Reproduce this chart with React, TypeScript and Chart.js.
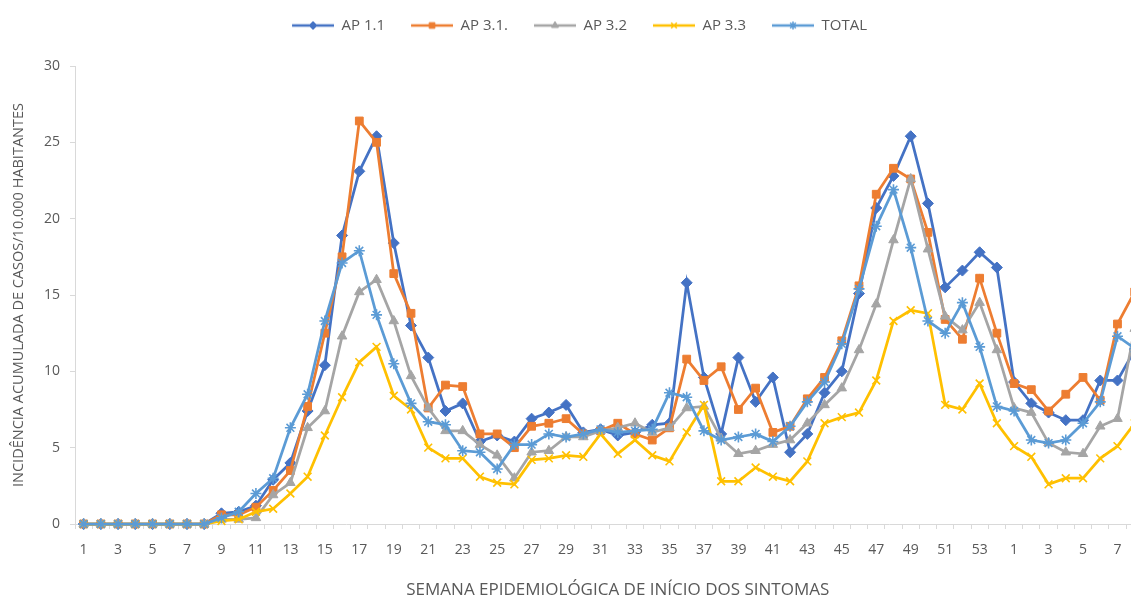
import React, { useEffect, useRef } from 'react';
import { Chart, registerables } from 'chart.js';
import { drawPoint } from 'chart.js/helpers';

Chart.register(...registerables);

// Epidemiological weeks: 53 weeks of the first year, one extra slot, then the next year
const weekLabels = [
  '1', '2', '3', '4', '5', '6', '7', '8', '9', '10',
  '11', '12', '13', '14', '15', '16', '17', '18', '19', '20',
  '21', '22', '23', '24', '25', '26', '27', '28', '29', '30',
  '31', '32', '33', '34', '35', '36', '37', '38', '39', '40',
  '41', '42', '43', '44', '45', '46', '47', '48', '49', '50',
  '51', '52', '53', '54',
  '1', '2', '3', '4', '5', '6', '7', '8', '9',
];

const ap11 = [
  0, 0, 0, 0, 0, 0, 0, 0, 0.7, 0.8,
  1.2, 2.9, 4.0, 7.4, 10.4, 18.9, 23.1, 25.4, 18.4, 13.0,
  10.9, 7.4, 7.9, 5.4, 5.8, 5.4, 6.9, 7.3, 7.8, 6.0,
  6.2, 5.8, 6.0, 6.5, 6.6, 15.8, 9.6, 5.9, 10.9, 8.0,
  9.6, 4.7, 5.9, 8.6, 10.0, 15.1, 20.7, 22.8, 25.4, 21.0,
  15.5, 16.6, 17.8, 16.8,
  9.3, 7.9, 7.3, 6.8, 6.8, 9.4, 9.4, 11.4, null,
];

const ap31 = [
  0, 0, 0, 0, 0, 0, 0, 0, 0.6, 0.6,
  1.1, 2.2, 3.5, 7.7, 12.5, 17.5, 26.4, 25.0, 16.4, 13.8,
  7.6, 9.1, 9.0, 5.9, 5.9, 5.0, 6.4, 6.6, 6.9, 5.9,
  6.1, 6.6, 5.9, 5.5, 6.3, 10.8, 9.4, 10.3, 7.5, 8.9,
  6.0, 6.4, 8.2, 9.6, 12.0, 15.6, 21.6, 23.3, 22.6, 19.1,
  13.4, 12.1, 16.1, 12.5,
  9.2, 8.8, 7.4, 8.5, 9.6, 8.1, 13.1, 15.2, null,
];

const ap32 = [
  0, 0, 0, 0, 0, 0, 0, 0, 0.3, 0.3,
  0.4, 1.9, 2.7, 6.3, 7.4, 12.3, 15.2, 16.0, 13.3, 9.7,
  7.6, 6.1, 6.1, 5.2, 4.5, 3.0, 4.7, 4.8, 5.7, 5.7,
  6.1, 6.3, 6.6, 6.0, 6.3, 7.6, 7.7, 5.6, 4.6, 4.8,
  5.2, 5.5, 6.6, 7.8, 8.9, 11.4, 14.4, 18.6, 22.6, 18.0,
  13.6, 12.7, 14.5, 11.4,
  7.6, 7.3, 5.3, 4.7, 4.6, 6.4, 6.9, 12.8, null,
];

const ap33 = [
  0, 0, 0, 0, 0, 0, 0, 0, 0.2, 0.3,
  0.8, 1.0, 2.0, 3.1, 5.8, 8.3, 10.6, 11.6, 8.4, 7.5,
  5.0, 4.3, 4.3, 3.1, 2.7, 2.6, 4.2, 4.3, 4.5, 4.4,
  5.9, 4.6, 5.5, 4.5, 4.1, 6.0, 7.8, 2.8, 2.8, 3.7,
  3.1, 2.8, 4.1, 6.6, 7.0, 7.3, 9.4, 13.3, 14.0, 13.8,
  7.8, 7.5, 9.2, 6.6,
  5.1, 4.4, 2.6, 3.0, 3.0, 4.3, 5.1, 6.6, null,
];

const total = [
  0, 0, 0, 0, 0, 0, 0, 0, 0.4, 0.8,
  2.0, 3.0, 6.3, 8.5, 13.3, 17.1, 17.9, 13.7, 10.5, 7.9,
  6.7, 6.5, 4.8, 4.7, 3.6, 5.2, 5.2, 5.9, 5.7, 5.9,
  6.2, 6.0, 6.1, 6.2, 8.6, 8.3, 6.1, 5.5, 5.7, 5.9,
  5.4, 6.4, 8.0, 9.3, 11.8, 15.4, 19.5, 21.9, 18.1, 13.3,
  12.5, 14.5, 11.6, 7.7,
  7.4, 5.5, 5.3, 5.5, 6.6, 8.0, 12.3, 11.5, null,
];

const yTicks = [0, 5, 10, 15, 20, 25, 30];

const TEXT = '#595959';
const AXIS = '#d9d9d9';
const FONT = '"Open Sans", "Noto Sans", sans-serif';

type SeriesDef = {
  label: string;
  data: (number | null)[];
  color: string;
  pointStyle: string;
  radius: number;
  filled: boolean;
};

const series: SeriesDef[] = [
  { label: 'AP 1.1', data: ap11, color: '#4472C4', pointStyle: 'rectRot', radius: 5.5, filled: true },
  { label: 'AP 3.1.', data: ap31, color: '#ED7D31', pointStyle: 'rect', radius: 5.5, filled: true },
  { label: 'AP 3.2', data: ap32, color: '#A5A5A5', pointStyle: 'triangle', radius: 5.5, filled: true },
  { label: 'AP 3.3', data: ap33, color: '#FFC000', pointStyle: 'crossRot', radius: 5.5, filled: false },
  { label: 'TOTAL', data: total, color: '#5B9BD5', pointStyle: 'star', radius: 5.5, filled: false },
];

// Legend swatch: a short line with the series marker in its middle,
// with some blank space on the left to separate the legend entries.
function makeLegendIcon(s: SeriesDef): HTMLCanvasElement {
  const gap = 16;
  const lineW = 42;
  const c = document.createElement('canvas');
  c.width = gap + lineW;
  c.height = 14;
  const ctx = c.getContext('2d')!;
  ctx.strokeStyle = s.color;
  ctx.lineWidth = 2.5;
  ctx.beginPath();
  ctx.moveTo(gap, 7);
  ctx.lineTo(gap + lineW, 7);
  ctx.stroke();
  ctx.fillStyle = s.color;
  ctx.strokeStyle = s.color;
  ctx.lineWidth = s.filled ? 1 : 1.5;
  drawPoint(ctx, { pointStyle: s.pointStyle as any, radius: 4, rotation: 0, borderWidth: ctx.lineWidth } as any, gap + lineW / 2, 7);
  return c;
}

// Fixed legend band height, and a small horizontal shift of the legend row
const legendLayout = {
  id: 'legendLayout',
  beforeInit(chart: any) {
    const legend = chart.legend;
    const fit = legend.fit;
    legend.fit = function () {
      fit.bind(legend)();
      this.height = 58;
    };
    const draw = legend.draw;
    legend.draw = function (...args: any[]) {
      const ctx = chart.ctx;
      ctx.save();
      ctx.translate(-17, 0);
      draw.apply(legend, args);
      ctx.restore();
    };
  },
};

export default function App() {
  const canvasRef = useRef<HTMLCanvasElement>(null);

  useEffect(() => {
    document.documentElement.style.overflow = 'hidden';
    document.body.style.overflow = 'hidden';
    const icons = series.map(makeLegendIcon);
    const chart = new Chart(canvasRef.current!, {
      type: 'line',
      data: {
        labels: weekLabels,
        datasets: series.map((s, i) => ({
          label: s.label,
          data: s.data,
          borderColor: s.color,
          backgroundColor: s.color,
          pointBackgroundColor: s.color,
          pointBorderColor: s.color,
          pointStyle: s.pointStyle as any,
          pointRadius: s.radius,
          pointBorderWidth: s.filled ? 1 : 1.6,
          borderWidth: 2.75,
          tension: 0,
          fill: false,
          clip: false,
          order: series.length - i,
        })),
      },
      options: {
        animation: false,
        responsive: false,
        layout: { padding: 0 },
        plugins: {
          tooltip: { enabled: false },
          legend: {
            position: 'top',
            labels: {
              usePointStyle: true,
              pointStyleWidth: 58,
              padding: 10,
              color: TEXT,
              font: { family: FONT, size: 15 },
              generateLabels: (c: any) =>
                c.data.datasets.map((ds: any, i: number) => ({
                  text: ds.label,
                  pointStyle: icons[i],
                  fillStyle: 'rgba(0,0,0,0)',
                  strokeStyle: 'rgba(0,0,0,0)',
                  lineWidth: 0,
                  hidden: false,
                  datasetIndex: i,
                  fontColor: TEXT,
                })),
            },
          },
        },
        scales: {
          x: {
            type: 'category',
            offset: true,
            grid: {
              display: true,
              drawOnChartArea: false,
              drawTicks: true,
              tickLength: 5,
              color: AXIS,
              offset: true,
            },
            border: { display: true, color: AXIS, width: 1 },
            ticks: {
              autoSkip: false,
              maxRotation: 0,
              minRotation: 0,
              padding: 13,
              color: TEXT,
              font: { family: FONT, size: 14 },
              callback: (_v: any, idx: number) => (idx % 2 === 0 ? weekLabels[idx] : ''),
            },
            title: {
              display: true,
              text: 'SEMANA EPIDEMIOLÓGICA DE INÍCIO DOS SINTOMAS',
              color: TEXT,
              font: { family: FONT, size: 17 },
              padding: { top: 4, bottom: 0 },
            },
            afterFit: (scale: any) => {
              scale.height = 76;
            },
          },
          y: {
            min: 0,
            max: 30,
            afterBuildTicks: (scale: any) => {
              scale.ticks = yTicks.map((v) => ({ value: v }));
            },
            grid: {
              display: true,
              drawOnChartArea: false,
              drawTicks: true,
              tickLength: 5,
              color: AXIS,
            },
            border: { display: true, color: AXIS, width: 1 },
            ticks: {
              padding: 10,
              color: TEXT,
              font: { family: FONT, size: 14 },
            },
            title: {
              display: true,
              text: 'INCIDÊNCIA ACUMULADA DE CASOS/10.000 HABITANTES',
              color: TEXT,
              font: { family: FONT, size: 14.5 },
              padding: { top: 2, bottom: 2 },
            },
            afterFit: (scale: any) => {
              scale.width = 67;
            },
          },
        },
      },
      plugins: [legendLayout],
    } as any);
    return () => chart.destroy();
  }, []);

  return (
    <div style={{ width: 1139, height: 592, overflow: 'hidden', background: '#ffffff' }}>
      <canvas ref={canvasRef} width={1161} height={592} style={{ display: 'block' }} />
    </div>
  );
}
